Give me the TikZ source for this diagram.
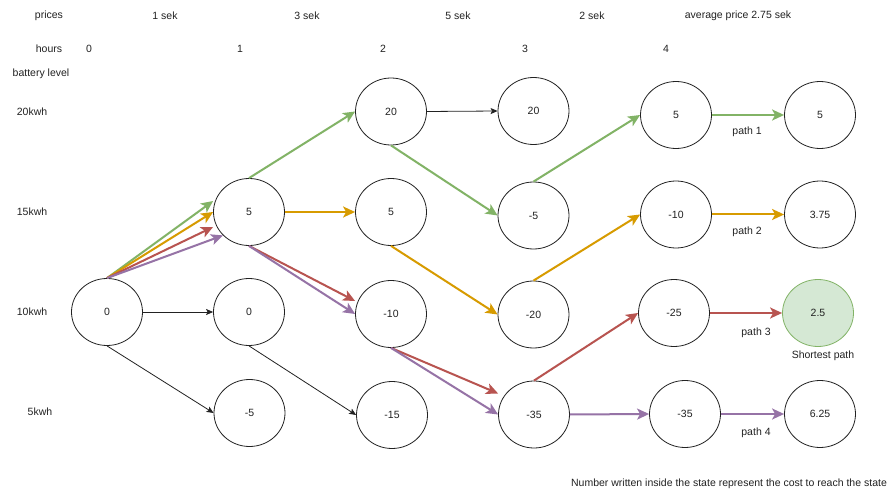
\documentclass[tikz,border=0pt]{standalone}
\usepackage{fontspec}
\setmainfont{Liberation Sans}
\usetikzlibrary{shapes.geometric,arrows.meta}
\definecolor{pgreen}{HTML}{82B366}
\definecolor{porange}{HTML}{D79B00}
\definecolor{pred}{HTML}{B85450}
\definecolor{ppurple}{HTML}{9673A6}
\definecolor{sfill}{HTML}{D5E8D4}
\definecolor{ink}{HTML}{222222}
\begin{document}
\begin{tikzpicture}[x=1pt,y=-1pt,
 every node/.style={font=\fontsize{10.5}{12}\selectfont, text=ink},
 state/.style={ellipse, draw=ink, line width=0.8pt, minimum width=71pt, minimum height=67pt, inner sep=0pt},
 lbl/.style={inner sep=0pt},
 plain/.style={draw=ink, line width=0.8pt, -{Stealth[length=7pt,width=6pt,inset=1.5pt]}},
 pth/.style={line width=2pt, -{Stealth[length=12pt,width=11pt,inset=3pt]}},
]
\useasboundingbox[fill=white] (0,0) rectangle (889,494);

% header texts
\node[lbl] (tprices) at (49,16) {prices};
\node[lbl] (tp1) at (165,16) {1 sek};
\node[lbl] (tp2) at (307,16) {3 sek};
\node[lbl] (tp3) at (458,16) {5 sek};
\node[lbl] (tp4) at (592,16) {2 sek};
\node[lbl] (tavg) at (738,16) {average price 2.75 sek};
\node[lbl] (thours) at (49,49) {hours};
\node[lbl] (th0) at (89,49) {0};
\node[lbl] (th1) at (240,49) {1};
\node[lbl] (th2) at (383,49) {2};
\node[lbl] (th3) at (525,49) {3};
\node[lbl] (th4) at (666,49) {4};
\node[lbl] (tbat) at (41,74) {battery level};
\node[lbl] (t20) at (32,112) {20kwh};
\node[lbl] (t15) at (32,212) {15kwh};
\node[lbl] (t10) at (32,312) {10kwh};
\node[lbl] (t5) at (40,412) {5kwh};

% states
\node[state] (n0) at (107,312) {0};
\node[state] (n1a) at (249,212) {5};
\node[state] (n1b) at (249,312) {0};
\node[state] (n1c) at (249.5,413) {-5};
\node[state] (n2a) at (391,111.5) {20};
\node[state] (n2b) at (391,212) {5};
\node[state] (n2c) at (391,314) {-10};
\node[state] (n2d) at (392,415) {-15};
\node[state] (n3a) at (533.5,111) {20};
\node[state] (n3b) at (533.5,215.5) {-5};
\node[state] (n3c) at (533.5,314.5) {-20};
\node[state] (n3d) at (534,414.5) {-35};
\node[state] (n4a) at (676,115) {5};
\node[state] (n4b) at (676,214.5) {-10};
\node[state] (n4c) at (674,313) {-25};
\node[state] (n4d) at (685,414) {-35};
\node[state] (n5a) at (820,115) {5};
\node[state] (n5b) at (820,214.5) {3.75};
\node[state, fill=sfill, draw=pgreen] (n5c) at (818,313) {2.5};
\node[state] (n5d) at (820,414) {6.25};

% black transitions
\draw[plain] (n0.east) -- (n1b.west);
\draw[plain] (n0.south) -- (n1c.west);
\draw[plain] (n1b.south) -- (n2d.west);
\draw[plain] (n2a.east) -- (n3a.west);

% path 1 (green)
\draw[pth, pgreen] (n0.north) -- ([yshift=11pt]n1a.west);
\draw[pth, pgreen] (n1a.north) -- (n2a.west);
\draw[pth, pgreen] (n2a.south) -- (n3b.west);
\draw[pth, pgreen] (n3b.north) -- (n4a.west);
\draw[pth, pgreen] (n4a.east) -- (n5a.west);

% path 2 (orange)
\draw[pth, porange] (n0.north) -- (n1a.west);
\draw[pth, porange] (n1a.east) -- (n2b.west);
\draw[pth, porange] (n2b.south) -- (n3c.west);
\draw[pth, porange] (n3c.north) -- (n4b.west);
\draw[pth, porange] (n4b.east) -- (n5b.west);

% path 3 (red)
\draw[pth, pred] (n0.north) -- ([yshift=-15pt]n1a.west);
\draw[pth, pred] (n1a.south) -- ([yshift=13pt]n2c.west);
\draw[pth, pred] (n2c.south) -- ([yshift=21pt]n3d.west);
\draw[pth, pred] (n3d.north) -- (n4c.west);
\draw[pth, pred] (n4c.east) -- (n5c.west);

% path 4 (purple)
\draw[pth, ppurple] (n0.north) -- (n1a.-138);
\draw[pth, ppurple] (n1a.south) -- (n2c.west);
\draw[pth, ppurple] (n2c.south) -- (n3d.west);
\draw[pth, ppurple] (n3d.east) -- (n4d.west);
\draw[pth, ppurple] (n4d.east) -- (n5d.west);

% path labels
\node[lbl] (lp1) at (747,132) {path 1};
\node[lbl] (lp2) at (747,232) {path 2};
\node[lbl] (lp3) at (756,333) {path 3};
\node[lbl] (lp4) at (756,433) {path 4};
\node[lbl] (lsp) at (823,356) {Shortest path};
\node[lbl] (note) at (729,484) {Number written inside the state represent the cost to reach the state};
\end{tikzpicture}
\end{document}
